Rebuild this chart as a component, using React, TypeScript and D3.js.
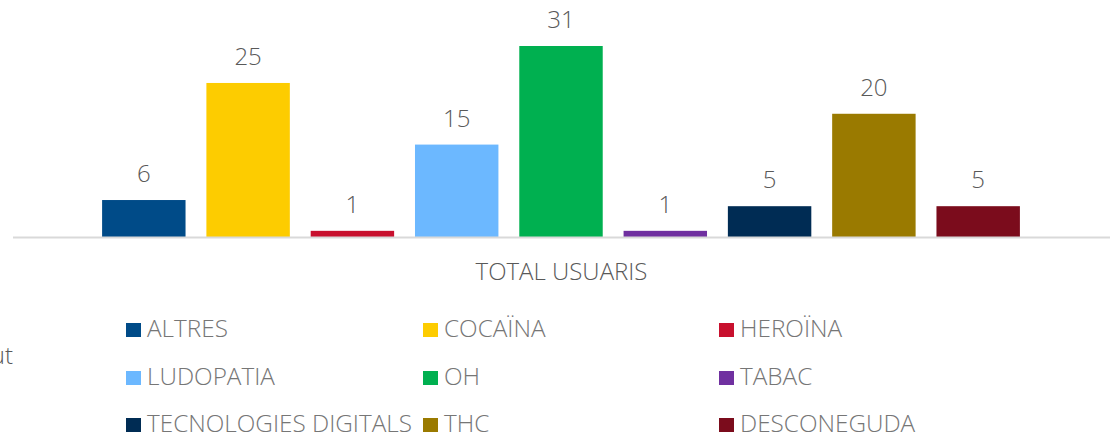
import React from "react";
import * as d3 from "d3";

const categories = ["TOTAL USUARIS"];
const series = ["ALTRES", "COCAÏNA", "HEROÏNA", "LUDOPATIA", "OH", "TABAC", "TECNOLOGIES DIGITALS", "THC", "DESCONEGUDA"];
const values = [6, 25, 1, 15, 31, 1, 5, 20, 5];
const colors = ["#004b88", "#fdcc00", "#c8102e", "#6cb8ff", "#00b050", "#7030a0", "#002c54", "#9a7a00", "#7b0c1c"];

const W = 1117;
const H = 437;
const FONT = "'Open Sans', 'Segoe UI', sans-serif";

export default function App() {
  const baseY = 237;
  const y = d3.scaleLinear().domain([0, 31]).range([baseY, 46]);
  const x0 = d3.scaleBand<string>().domain(categories).range([13, 1110]).paddingOuter(0);
  const groupCenter = (x0(categories[0]) ?? 0) + x0.bandwidth() / 2;
  const innerWidth = 917.8;
  const x1 = d3
    .scaleBand<string>()
    .domain(series)
    .range([groupCenter - innerWidth / 2 - 0.5, groupCenter + innerWidth / 2 - 0.5])
    .paddingInner(0.2)
    .paddingOuter(0);

  const legendCols = [126, 423, 719];
  const legendRows = [323, 371, 418];

  return (
    <svg
      width={W}
      height={H}
      style={{ position: "absolute", left: 0, top: 0, background: "#fff" }}
      fontFamily={FONT}
    >
      {series.map((s, i) => (
        <g key={s}>
          <rect
            x={x1(s)}
            y={y(values[i])}
            width={x1.bandwidth()}
            height={baseY - y(values[i])}
            fill={colors[i]}
          />
          <text
            x={(x1(s) ?? 0) + x1.bandwidth() / 2}
            y={y(values[i]) - 18}
            textAnchor="middle"
            fontSize={24}
            fontWeight={300}
            fill="#595959"
          >
            {values[i]}
          </text>
        </g>
      ))}
      <line x1={13} x2={1110} y1={baseY + 0.5} y2={baseY + 0.5} stroke="#d9d9d9" strokeWidth={2} />
      <text x={groupCenter} y={280} textAnchor="middle" fontSize={24} fontWeight={300} fill="#595959">
        {categories[0]}
      </text>
      <text x={13} y={364} textAnchor="end" fontSize={24} fontWeight={300} fill="#595959">
        ut
      </text>
      {series.map((s, i) => {
        const cx = legendCols[i % 3];
        const cy = legendRows[Math.floor(i / 3)];
        return (
          <g key={"lg" + s}>
            <rect x={cx} y={cy} width={15} height={14} fill={colors[i]} />
            <text x={cx + 21} y={cy + 14} fontSize={24.3} fontWeight={300} fill="#767676">
              {s}
            </text>
          </g>
        );
      })}
    </svg>
  );
}
